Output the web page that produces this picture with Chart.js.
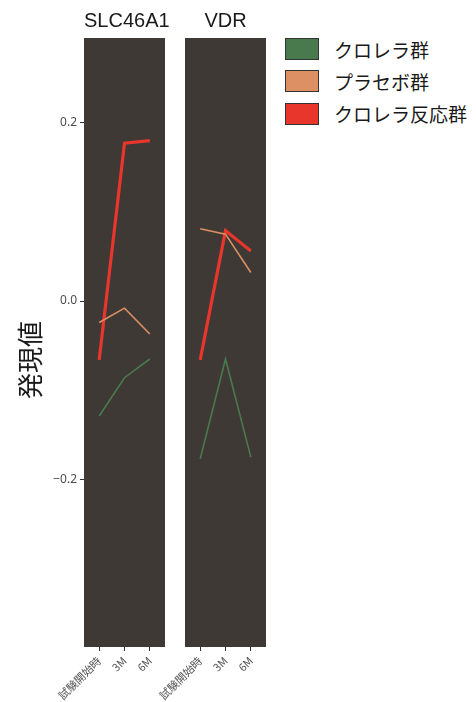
<!DOCTYPE html>
<html>
<head>
<meta charset="utf-8">
<script src="https://cdn.jsdelivr.net/npm/chart.js@4"></script>
<style>
  body { margin: 0; background: #fff; width: 476px; height: 702px; position: relative; overflow: hidden;
         font-family: "Noto Sans CJK JP", "Noto Sans", sans-serif; }
  .wrap { position: absolute; top: 0; }
  .strip { position: absolute; top: 9px; font-family: "Liberation Sans", Arial, sans-serif; font-size: 20px;
           color: #1a1a1a; text-align: center; }
  .ytitle { position: absolute; left: 29px; top: 360px; transform: translate(-50%, -50%) rotate(-90deg);
            font-size: 26px; color: #1a1a1a; white-space: nowrap; line-height: 1; }
  .legend { position: absolute; left: 285px; top: 33px; }
  .item { display: flex; align-items: center; height: 32.3px; }
  .box { width: 32px; height: 20px; border: 1.5px solid #333; margin-right: 15px; }
  .item span { font-size: 19px; color: #1a1a1a; }
</style>
</head>
<body>
<div class="wrap" style="left:0;width:170px;height:702px"><canvas id="chart1"></canvas></div>
<div class="wrap" style="left:130px;width:140px;height:702px"><canvas id="chart2"></canvas></div>
<div class="strip" style="left:84px;width:81px">SLC46A1</div>
<div class="strip" style="left:185px;width:81px">VDR</div>
<div class="ytitle">発現値</div>
<div class="legend" id="legend"></div>

<script>
// Time points and groups
const timeLabels = ['試験開始時', '3M', '6M'];
const groupNames = ['クロレラ群', 'プラセボ群', 'クロレラ反応群'];
const groupColors = ['#497a4d', '#dc9063', '#e8362d'];
const groupWidths = [1.6, 1.6, 3.2];

// Expression values
const slcChlorella = [-0.129, -0.086, -0.065];
const slcPlacebo = [-0.024, -0.008, -0.037];
const slcResponder = [-0.066, 0.177, 0.180];

const vdrChlorella = [-0.177, -0.065, -0.175];
const vdrPlacebo = [0.081, 0.075, 0.032];
const vdrResponder = [-0.066, 0.079, 0.056];

const yTicks = [-0.2, 0.0, 0.2];
const yMin = -0.388, yMax = 0.295;

function makeDatasets(series) {
  return series.map((vals, i) => ({
    label: groupNames[i],
    data: vals.map((v, j) => ({ x: j + 1, y: v })),
    borderColor: groupColors[i],
    borderWidth: groupWidths[i],
    pointRadius: 0,
    tension: 0,
    borderCapStyle: 'butt'
  }));
}

const panelBg = {
  id: 'panelBg',
  beforeDatasetsDraw(chart) {
    const a = chart.chartArea;
    const ctx = chart.ctx;
    ctx.save();
    ctx.fillStyle = '#3e3934';
    ctx.fillRect(a.left, a.top, a.right - a.left, a.bottom - a.top);
    ctx.restore();
  }
};

function xScale() {
  return {
    type: 'linear',
    min: 0.4,
    max: 3.6,
    afterBuildTicks(s) { s.ticks = [1, 2, 3].map(v => ({ value: v })); },
    afterFit(s) { s.height = 55; s.paddingLeft = 0; s.paddingRight = 0; },
    border: { display: false },
    grid: { drawOnChartArea: false, color: '#333', tickLength: 4, tickWidth: 1 },
    ticks: {
      minRotation: 45, maxRotation: 45, autoSkip: false, padding: 3,
      color: '#555', font: { size: 11, family: '"Noto Sans CJK JP", sans-serif' },
      callback: v => timeLabels[v - 1]
    }
  };
}

function yScale(show) {
  return {
    type: 'linear',
    min: yMin,
    max: yMax,
    display: show,
    afterBuildTicks(s) { s.ticks = yTicks.map(v => ({ value: v })); },
    afterFit(s) { s.width = show ? 84 : 0; },
    border: { display: false },
    grid: { drawOnChartArea: false, color: '#333', tickLength: 4, tickWidth: 1 },
    ticks: {
      color: '#4d4d4d', padding: 3, font: { size: 12, family: '"Noto Sans", sans-serif' },
      callback: v => v.toFixed(1).replace('-', '\u2212')
    }
  };
}

function makeChart(id, series, showY, padding) {
  return new Chart(document.getElementById(id), {
    type: 'line',
    data: { datasets: makeDatasets(series) },
    options: {
      responsive: true,
      maintainAspectRatio: false,
      animation: false,
      layout: { padding: padding },
      plugins: { legend: { display: false }, tooltip: { enabled: false } },
      scales: { x: xScale(), y: yScale(showY) }
    },
    plugins: [panelBg]
  });
}

makeChart('chart1', [slcChlorella, slcPlacebo, slcResponder], true, { top: 38, right: 5, left: 0, bottom: 0 });
makeChart('chart2', [vdrChlorella, vdrPlacebo, vdrResponder], false, { top: 38, right: 4, left: 55, bottom: 0 });

// Legend
const legend = document.getElementById('legend');
groupNames.forEach((name, i) => {
  const item = document.createElement('div');
  item.className = 'item';
  item.innerHTML = '<div class="box" style="background:' + groupColors[i] + '"></div><span>' + name + '</span>';
  legend.appendChild(item);
});
</script>
</body>
</html>
